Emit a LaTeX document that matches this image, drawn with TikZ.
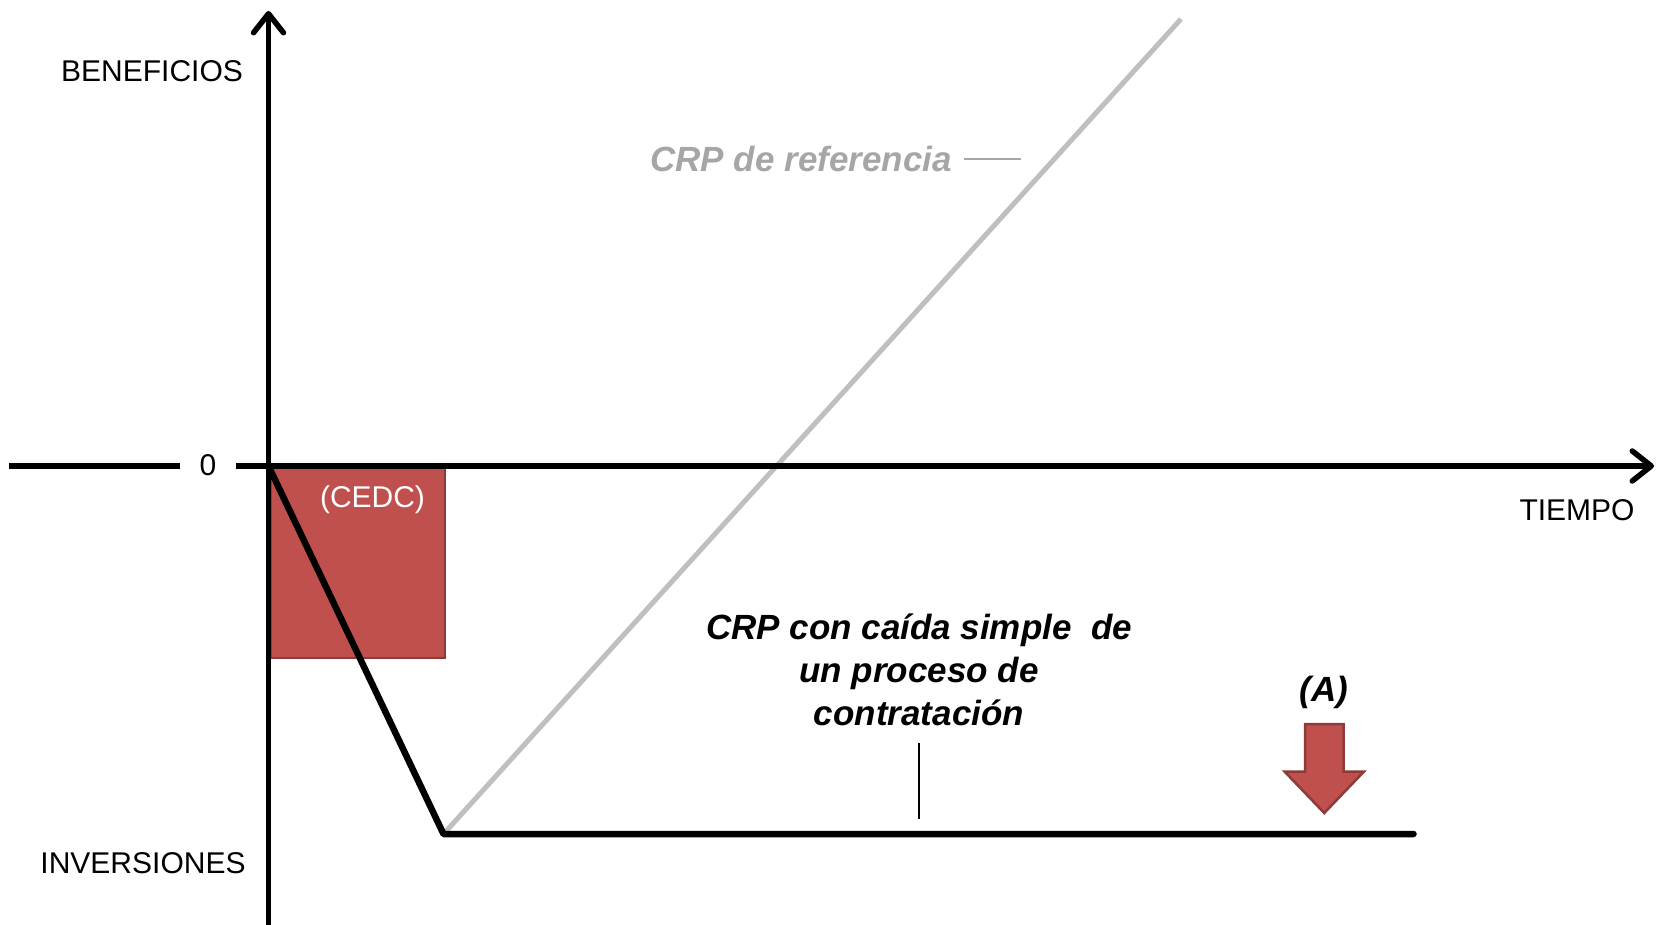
\documentclass[tikz,border=0pt]{standalone}
\usepackage{fontspec}
\setmainfont{Liberation Sans}
\usetikzlibrary{arrows.meta}
\definecolor{cedc}{HTML}{C0504D}
\definecolor{cedcedge}{HTML}{8E3A38}
\definecolor{refgray}{HTML}{BFBFBF}
\definecolor{reftext}{HTML}{A6A6A6}
\tikzset{
  axis/.style={line width=5.5pt, draw=black},
  axtip/.style={-{Straight Barb[length=19pt,width=30pt,line cap=round,line join=round]}},
  lbl/.style={font=\fontsize{30}{36}\selectfont, inner sep=0pt},
  bilbl/.style={font=\fontsize{35}{43}\selectfont\bfseries\itshape, inner sep=0pt, align=center},
  leader/.style={line width=1.5pt},
}
\begin{document}
\begin{tikzpicture}[x=1pt,y=-1pt]
\useasboundingbox (0,0) rectangle (1664,925);
% coordinates
\coordinate (O) at (268.5,466);
\coordinate (ytop) at (268.5,11);
\coordinate (ybot) at (268.5,925);
\coordinate (xleft) at (8.5,466);
\coordinate (xgapL) at (180,466);
\coordinate (xgapR) at (236,466);
\coordinate (xright) at (1654,466);
\coordinate (low) at (443.5,834);
\coordinate (lowend) at (1413.5,834);
\coordinate (reftop) at (1181,19);
% CEDC box
\node[draw=cedcedge, fill=cedc, line width=2pt, minimum width=174pt, minimum height=190pt, anchor=north west, inner sep=0pt] (cedc) at (269.5,467) {};
\node[lbl, text=white] (cedclbl) at (372.5,500) {(CEDC)};
% reference line
\draw[refgray, line width=5pt] (low) -- (reftop);
% axes
\draw[axis, axtip] (ybot) -- (ytop);
\draw[axis] (xleft) -- (xgapL);
\draw[axis, axtip] (xgapR) -- (xright);
\node[lbl] (zero) at (208,465) {0};
\node[lbl] (benef) at (152,71) {BENEFICIOS};
\node[lbl] (inver) at (143,863) {INVERSIONES};
\node[lbl] (tiempo) at (1577,510) {TIEMPO};
% CRP with simple fall
\draw[line width=6.5pt, line cap=round, line join=round] (O) -- (low) -- (lowend);
% labels
\node[bilbl, text=reftext] (refl) at (801,159) {CRP de referencia};
\coordinate (refa) at (963.5,159);
\coordinate (refb) at (1021,159);
\draw[leader, reftext] (refa) -- (refb);
\node[bilbl] (fall) at (919,670) {CRP con caída simple\ \ de\\un proceso de\\contratación};
\coordinate (fa) at (919,743);
\coordinate (fb) at (919,819);
\draw[leader] (fa) -- (fb);
\node[bilbl] (A) at (1324,692) {(A)};
% red arrow
\draw[fill=cedc, draw=cedcedge, line width=2.5pt, line join=miter]
  (1305,724) -- (1343.5,724) -- (1343.5,771.5) -- (1364,771.5) -- (1324.25,813)
  -- (1284.5,771.5) -- (1305,771.5) -- cycle;
\end{tikzpicture}
\end{document}
